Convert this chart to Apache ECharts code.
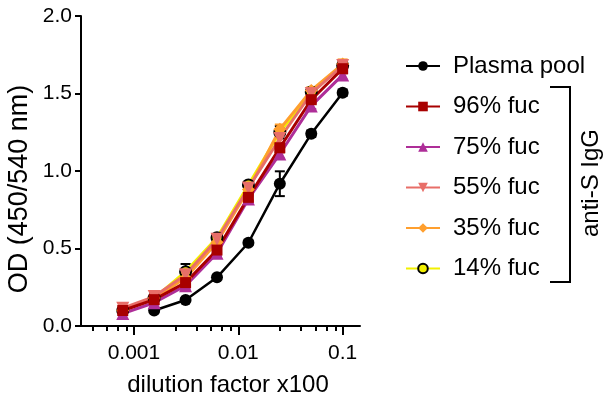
<!DOCTYPE html>
<html>
<head>
<meta charset="utf-8">
<script src="https://cdn.jsdelivr.net/npm/echarts@6/dist/echarts.min.js"></script>
<style>
    html, body { margin: 0; padding: 0; background: #fff; }
    #chart { width: 609px; height: 408px; }
</style>
</head>
<body>
<div id="chart"></div>
<script>
// dilution factor x100 (two-fold series)
const dilutions = [0.00078125, 0.0015625, 0.003125, 0.00625, 0.0125, 0.025, 0.05, 0.1];

// OD 450/540 nm readings
const plasmaPool = [null, 0.10, 0.168, 0.314, 0.537, 0.918, 1.24, 1.505];
const plasmaPoolErr = [null, 0.01, 0.01, 0.01, 0.015, 0.08, 0.02, 0.02];
const fuc96 = [0.10, 0.17, 0.28, 0.49, 0.83, 1.15, 1.46, 1.66];
const fuc96Err = [0.01, 0.01, 0.02, 0.02, 0.02, 0.03, 0.02, 0.03];
const fuc75 = [0.08, 0.15, 0.26, 0.47, 0.82, 1.11, 1.42, 1.62];
const fuc75Err = [0.01, 0.01, 0.02, 0.02, 0.02, 0.03, 0.02, 0.03];
const fuc55 = [0.115, 0.19, 0.33, 0.56, 0.89, 1.21, 1.50, 1.68];
const fuc55Err = [0.01, 0.02, 0.03, 0.02, 0.02, 0.03, 0.02, 0.03];
const fuc35 = [0.10, 0.18, 0.31, 0.54, 0.88, 1.27, 1.52, 1.69];
const fuc35Err = [0.01, 0.02, 0.02, 0.02, 0.02, 0.03, 0.02, 0.03];
const fuc14 = [0.10, 0.18, 0.35, 0.57, 0.91, 1.25, 1.51, 1.68];
const fuc14Err = [0.01, 0.02, 0.05, 0.02, 0.02, 0.04, 0.02, 0.03];

// axis ticks
const xRange = [0.000311, 0.1466];
const xMajorTicks = [0.001, 0.01, 0.1];
const xTickLabels = ['0.001', '0.01', '0.1'];
const xMinorTicks = [0.0004, 0.00055, 0.0007, 0.00085, 0.0025, 0.004, 0.0055, 0.007, 0.0085,
    0.025, 0.04, 0.055, 0.07, 0.085];

const FONT = '"Liberation Sans", Arial, sans-serif';

const chart = echarts.init(document.getElementById('chart'), null, { renderer: 'canvas' });

function pairs(values) {
    return dilutions.map((d, i) => [d, values[i]]).filter(p => p[1] != null);
}

function errorSeries(name, values, errors, color) {
    const data = [];
    dilutions.forEach((d, i) => {
        if (values[i] == null) return;
        data.push([d, values[i] - errors[i], values[i] + errors[i]]);
    });
    return {
        name: name + ' err',
        type: 'custom',
        xAxisIndex: 0,
        data: data,
        silent: true,
        renderItem(params, api) {
            const lo = api.coord([api.value(0), api.value(1)]);
            const hi = api.coord([api.value(0), api.value(2)]);
            const w = 5;
            const style = { stroke: color, lineWidth: 2 };
            return {
                type: 'group',
                children: [
                    { type: 'line', shape: { x1: lo[0], y1: lo[1], x2: hi[0], y2: hi[1] }, style },
                    { type: 'line', shape: { x1: lo[0] - w, y1: lo[1], x2: lo[0] + w, y2: lo[1] }, style },
                    { type: 'line', shape: { x1: hi[0] - w, y1: hi[1], x2: hi[0] + w, y2: hi[1] }, style }
                ]
            };
        }
    };
}

function lineSeries(name, values, color, symbol, size, extra) {
    return Object.assign({
        name: name,
        type: 'line',
        xAxisIndex: 0,
        data: pairs(values),
        symbol: symbol,
        symbolSize: size,
        showAllSymbol: true,
        lineStyle: { color: color, width: 3 },
        itemStyle: { color: color, opacity: 1 },
        emphasis: { disabled: true }
    }, extra || {});
}

const logTick = v => Math.log10(v);

chart.setOption({
    animation: false,
    grid: { left: 81, top: 16, right: 249, bottom: 82 },
    legend: {
        orient: 'vertical',
        left: 400,
        top: 49,
        itemWidth: 34,
        itemHeight: 12,
        itemGap: 16.5,
        data: ['Plasma pool', '96% fuc', '75% fuc', '55% fuc', '35% fuc', '14% fuc'],
        textStyle: { fontFamily: FONT, fontSize: 24, color: '#000', lineHeight: 24, padding: [0, 0, 0, 8] }
    },
    xAxis: [
        {
            type: 'log',
            position: 'bottom',
            min: xRange[0],
            max: xRange[1],
            axisLine: { show: true, lineStyle: { color: '#000', width: 2 } },
            axisTick: { show: false },
            axisLabel: { show: false },
            splitLine: { show: false },
            name: 'dilution factor x100',
            nameLocation: 'middle',
            nameGap: 47,
            nameTextStyle: { fontFamily: FONT, fontSize: 24, color: '#000', padding: [0, 0, 0, 15] }
        },
        {
            type: 'value',
            position: 'bottom',
            min: logTick(xRange[0]),
            max: logTick(xRange[1]),
            axisLine: { show: false },
            axisTick: {
                show: true, length: 9, customValues: xMajorTicks.map(logTick),
                lineStyle: { color: '#000', width: 2 }
            },
            axisLabel: {
                show: true, margin: 17, customValues: xMajorTicks.map(logTick),
                fontFamily: FONT, fontSize: 21, color: '#000',
                formatter: v => {
                    const i = xMajorTicks.findIndex(t => Math.abs(logTick(t) - v) < 1e-6);
                    return i < 0 ? '' : xTickLabels[i];
                }
            },
            splitLine: { show: false }
        },
        {
            type: 'value',
            position: 'bottom',
            min: logTick(xRange[0]),
            max: logTick(xRange[1]),
            axisLine: { show: false },
            axisTick: {
                show: true, length: 5, customValues: xMinorTicks.map(logTick),
                lineStyle: { color: '#000', width: 2 }
            },
            axisLabel: { show: false },
            splitLine: { show: false }
        }
    ],
    yAxis: {
        type: 'value',
        min: 0,
        max: 2,
        interval: 0.5,
        axisLine: { show: true, lineStyle: { color: '#000', width: 2 } },
        axisTick: { show: true, length: 6, lineStyle: { color: '#000', width: 2 } },
        axisLabel: {
            margin: 9, fontFamily: FONT, fontSize: 21, color: '#000',
            formatter: v => v.toFixed(1)
        },
        splitLine: { show: false }
    },
    series: [
        errorSeries('Plasma pool', plasmaPool, plasmaPoolErr, '#000'),
        errorSeries('14% fuc', fuc14, fuc14Err, '#000'),
        errorSeries('35% fuc', fuc35, fuc35Err, '#ff9f2e'),
        errorSeries('75% fuc', fuc75, fuc75Err, '#ae2e98'),
        errorSeries('55% fuc', fuc55, fuc55Err, '#e86e68'),
        errorSeries('96% fuc', fuc96, fuc96Err, '#a80000'),
        lineSeries('Plasma pool', plasmaPool, '#000', 'circle', 12, { lineStyle: { color: '#000', width: 2.5 } }),
        lineSeries('14% fuc', fuc14, '#f2f000', 'circle', 11, {
            itemStyle: { color: '#f2f000', borderColor: '#000', borderWidth: 2 }
        }),
        lineSeries('35% fuc', fuc35, '#ff9f2e', 'diamond', 13),
        lineSeries('75% fuc', fuc75, '#ae2e98', 'triangle', 13),
        lineSeries('55% fuc', fuc55, '#e86e68', 'triangle', 13, { symbolRotate: 180 }),
        lineSeries('96% fuc', fuc96, '#a80000', 'rect', 11)
    ],
    graphic: [
        {
            // y axis title
            type: 'text',
            x: 20,
            y: 189,
            rotation: Math.PI / 2,
            style: {
                text: 'OD (450/540 nm)', fontFamily: FONT, fontSize: 27, fill: '#000',
                align: 'center', verticalAlign: 'middle'
            }
        },
        {
            type: 'polyline',
            shape: { points: [[550, 87], [570, 87], [570, 282], [550, 282]] },
            style: { stroke: '#000', lineWidth: 2, fill: null }
        },
        {
            type: 'text',
            x: 591,
            y: 183,
            rotation: Math.PI / 2,
            style: {
                text: 'anti-S IgG', fontFamily: FONT, fontSize: 24, fill: '#000',
                align: 'center', verticalAlign: 'middle'
            }
        }
    ]
});
</script>
</body>
</html>
